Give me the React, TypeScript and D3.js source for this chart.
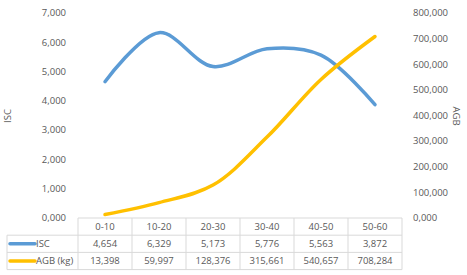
import React from "react";
import * as d3 from "d3";

const categories = ["0-10", "10-20", "20-30", "30-40", "40-50", "50-60"];
const iscValues = [4654, 6329, 5173, 5776, 5563, 3872];
const agbValues = [13398, 59997, 128376, 315661, 540657, 708284];
const iscLabels = ["4,654", "6,329", "5,173", "5,776", "5,563", "3,872"];
const agbLabels = ["13,398", "59,997", "128,376", "315,661", "540,657", "708,284"];
const leftTicks = [0, 1000, 2000, 3000, 4000, 5000, 6000, 7000];
const rightTicks = [0, 100000, 200000, 300000, 400000, 500000, 600000, 700000, 800000];
const seriesNames = ["ISC", "AGB (kg)"];

const W = 467;
const H = 275;
const plotL = 78;
const plotR = 402;
const plotT = 13;
const plotB = 218;
const rowH = 17.2;
const legendL = 7;
const BLUE = "#5B9BD5";
const YELLOW = "#FFC000";
const TXT = "#595959";
const GRID = "#D9D9D9";
const FONT = "'Open Sans', 'Noto Sans', sans-serif";

const fmt = (v: number) => d3.format(",")(v).replace(/^0$/, "0,000");

export default function App() {
  const x = d3.scaleBand<string>().domain(categories).range([plotL, plotR]);
  const yL = d3.scaleLinear().domain([0, 7000]).range([plotB, plotT]);
  const yR = d3.scaleLinear().domain([0, 800000]).range([plotB, plotT]);
  const cx = (c: string) => (x(c) as number) + x.bandwidth() / 2;

  const line = d3.line<[number, number]>().curve(d3.curveCatmullRom.alpha(0.5));
  const iscPath = line(categories.map((c, i) => [cx(c), yL(iscValues[i])]));
  const agbPath = line(categories.map((c, i) => [cx(c), yR(agbValues[i])]));

  const rows = [iscLabels, agbLabels];
  const colors = [BLUE, YELLOW];
  const tableBottom = plotB + rowH * 3;

  return (
    <svg width={W} height={H} style={{ position: "absolute", left: 0, top: 0, background: "#fff" }} fontFamily={FONT}>
      {leftTicks.map((t) => (
        <text key={"l" + t} x={66} y={yL(t)} dy="0.35em" textAnchor="end" fontSize={9.5} fill={TXT}>
          {t === 0 ? "0,000" : d3.format(",")(t)}
        </text>
      ))}
      {rightTicks.map((t) => (
        <text key={"r" + t} x={413} y={yR(t)} dy="0.35em" textAnchor="start" fontSize={9.5} fill={TXT}>
          {t === 0 ? "0,000" : fmt(t)}
        </text>
      ))}
      <text transform={`translate(11,116) rotate(-90)`} textAnchor="middle" fontSize={9.5} fill={TXT}>ISC</text>
      <text transform={`translate(453,116) rotate(90)`} textAnchor="middle" fontSize={9.5} fill={TXT}>AGB</text>

      <path d={iscPath || ""} fill="none" stroke={BLUE} strokeWidth={3.5} strokeLinecap="round" />
      <path d={agbPath || ""} fill="none" stroke={YELLOW} strokeWidth={3.5} strokeLinecap="round" />

      {/* table grid */}
      <g stroke={GRID} strokeWidth={1} fill="none">
        <line x1={plotL} x2={plotR} y1={plotB} y2={plotB} />
        {[1, 2, 3].map((r) => (
          <line key={"h" + r} x1={legendL} x2={plotR} y1={plotB + rowH * r} y2={plotB + rowH * r} />
        ))}
        <line x1={legendL} x2={legendL} y1={plotB + rowH} y2={tableBottom} />
        {categories.map((c) => (
          <line key={"v" + c} x1={x(c) as number} x2={x(c) as number} y1={plotB} y2={tableBottom} />
        ))}
        <line x1={plotR} x2={plotR} y1={plotB} y2={tableBottom} />
      </g>
      {categories.map((c) => (
        <text key={"c" + c} x={cx(c)} y={plotB + rowH * 0.5} dy="0.35em" textAnchor="middle" fontSize={9.5} fill={TXT}>
          {c}
        </text>
      ))}
      {rows.map((labels, r) => (
        <g key={"row" + r}>
          <line x1={10} x2={35} y1={plotB + rowH * (r + 1.5)} y2={plotB + rowH * (r + 1.5)} stroke={colors[r]} strokeWidth={3.5} strokeLinecap="round" />
          <text x={36} y={plotB + rowH * (r + 1.5)} dy="0.35em" fontSize={9.5} fill={TXT}>{seriesNames[r]}</text>
          {labels.map((l, i) => (
            <text key={i} x={cx(categories[i])} y={plotB + rowH * (r + 1.5)} dy="0.35em" textAnchor="middle" fontSize={9.5} fill={TXT}>
              {l}
            </text>
          ))}
        </g>
      ))}
    </svg>
  );
}
